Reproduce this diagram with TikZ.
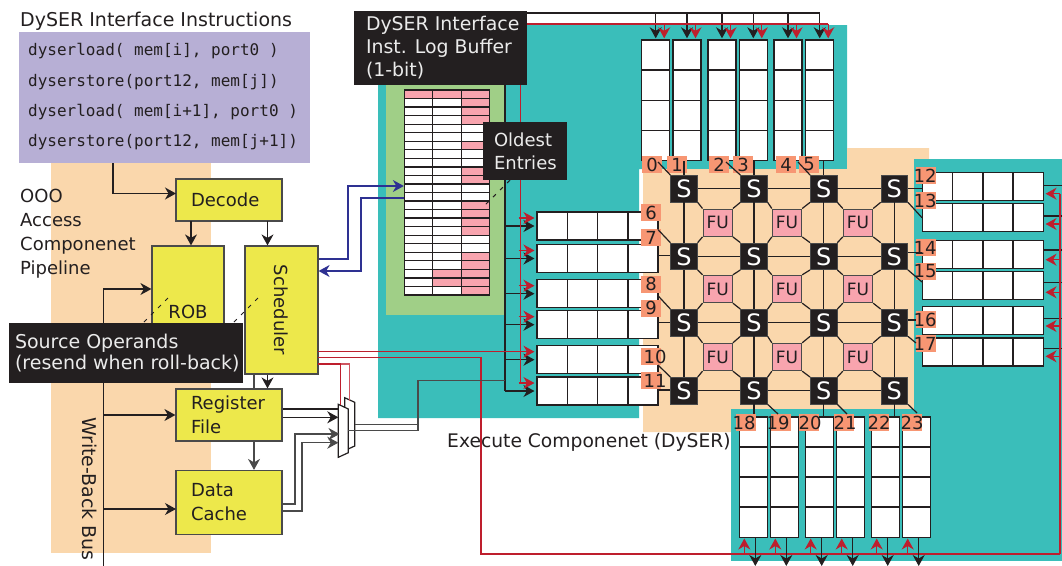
\documentclass[tikz,border=0pt]{standalone}
\usepackage{fontspec}
\usepackage{graphicx}
\setmainfont{DejaVu Sans}
\setmonofont{DejaVu Sans Mono}
\usetikzlibrary{arrows.meta,calc}
\definecolor{cInk}{HTML}{231F20}
\definecolor{cOrange}{HTML}{FAD7AC}
\definecolor{cPurple}{HTML}{B7AFD5}
\definecolor{cTeal}{HTML}{3ABEBA}
\definecolor{cGreen}{HTML}{A0CF87}
\definecolor{cYellow}{HTML}{EDE84B}
\definecolor{cSalmon}{HTML}{F79673}
\definecolor{cPink}{HTML}{F8A4AE}
\definecolor{cRed}{HTML}{BE1E2D}
\definecolor{cBlue}{HTML}{2E3192}
\definecolor{cEdge}{HTML}{4A4A4A}
\newcommand{\fs}[1]{\fontsize{#1}{#1}\selectfont}
\tikzset{
  x=1pt,y=-1pt,
  txt/.style={anchor=base west,inner sep=0pt,text=cInk,font=\fontsize{18}{24}\selectfont},
  mono/.style={anchor=base west,inner sep=0pt,text=cInk,font=\ttfamily\fontsize{16}{20}\selectfont},
  block/.style={draw=cEdge,fill=cYellow,line width=1.2pt,inner xsep=15pt,inner ysep=0pt,text width=76pt,align=left,text=cInk,font=\fontsize{18}{24}\selectfont},
  plainblock/.style={draw=cEdge,fill=cYellow,line width=1.2pt,inner sep=0pt,text=cInk,font=\fontsize{18}{24}\selectfont},
  blackbox/.style={fill=cInk,inner ysep=0pt,align=left,text=white!92!black},
  snode/.style={fill=cInk,draw=cEdge,line width=.8pt,minimum size=26.5pt,inner sep=0pt,text=white,font=\fs{24}},
  funode/.style={fill=cPink,draw=cEdge,line width=.9pt,minimum width=29.5pt,minimum height=27.5pt,inner sep=0pt,text=cInk,font=\fs{17}},
  tag/.style={fill=cSalmon,minimum width=20pt,minimum height=17pt,inner sep=0pt,text=cInk,font=\fs{18}},
  wire/.style={draw=cInk,line width=1.2pt},
  redwire/.style={draw=cRed,line width=1.3pt},
  bluewire/.style={draw=cBlue,line width=1.2pt},
  arr/.style={wire,-{Stealth[length=11pt,width=12pt,inset=3.5pt]}},
  redarr/.style={redwire,-{Stealth[length=11pt,width=12pt,inset=3.5pt]}},
  bluearr/.style={bluewire,-{Stealth[length=11pt,width=12pt,inset=3.5pt]}},
  dashline/.style={draw=cInk,line width=1pt,dash pattern=on 4pt off 6pt},
  fifo/.style={draw=cInk,fill=white,line width=1.5pt,inner sep=0pt},
  fifoh/.style={fifo,minimum width=121pt,minimum height=28pt,
    path picture={\foreach \t in {0.25,0.5,0.75}{\draw[cInk,line width=1.5pt]
      ($(path picture bounding box.north west)!\t!(path picture bounding box.north east)$) --
      ($(path picture bounding box.south west)!\t!(path picture bounding box.south east)$);}}},
  fifov/.style={fifo,minimum width=28pt,minimum height=120.5pt,
    path picture={\foreach \t in {0.25,0.5,0.75}{\draw[cInk,line width=1.5pt]
      ($(path picture bounding box.north west)!\t!(path picture bounding box.south west)$) --
      ($(path picture bounding box.north east)!\t!(path picture bounding box.south east)$);}}},
}
\begin{document}
\begin{tikzpicture}
\useasboundingbox (0,0) rectangle (1062,565);
% ---------- backgrounds
\fill[cOrange] (51,150) rectangle (211,553);
\fill[cPurple] (19,32) rectangle (310,163);
\fill[cTeal] (378,25) -- (847,25) -- (847,169) -- (639,169) -- (639,418) -- (378,418) -- cycle;
\fill[cOrange] (643,169) -- (847,169) -- (847,148) -- (929,148) -- (929,159) -- (914,159) -- (914,409) -- (731,409) -- (731,432) -- (643,432) -- cycle;
\fill[cTeal] (914,159) rectangle (1062,561);
\fill[cTeal] (731,409) rectangle (914,561);
\fill[cGreen] (386,80) rectangle (505,315);
% ---------- instruction text
\node[txt,font=\fs{19}] (title) at (20,26) {DySER Interface Instructions};
\node[mono] (i1) at (28,55.7) {dyserload( mem[i], port0 )};
\node[mono] (i2) at (28,86) {dyserstore(port12, mem[j])};
\node[mono] (i3) at (28,116) {dyserload( mem[i+1], port0 )};
\node[mono] (i4) at (28,146.7) {dyserstore(port12, mem[j+1])};
\node[txt] (p1) at (20,202) {OOO};
\node[txt] (p2) at (20,226.7) {Access};
\node[txt] (p3) at (20,250.7) {Componenet};
\node[txt] (p4) at (20,274.7) {Pipeline};
\node[txt,font=\fontsize{18.7}{24}\selectfont] (exec) at (447,447.5) {Execute Componenet (DySER)};
\node[anchor=base,inner sep=0pt,text=cInk,font=\fs{19},rotate=-90] (wb) at (82,489) {Write-Back Bus};
% ---------- pipeline blocks
\node[block,minimum height=42pt] (decode) at (229,200) {Decode};
\node[plainblock,minimum width=72pt,minimum height=132pt] (rob) at (188,312) {ROB};
\node[plainblock,minimum width=73pt,minimum height=128pt] (sched) at (281.5,310) {\rotatebox{-90}{Scheduler}};
\node[block,minimum height=52pt] (reg) at (229,415) {Register\\File};
\node[block,minimum height=64pt] (data) at (229,502.5) {Data\\Cache};
% ---------- named free ends
\coordinate (instrOut) at (113,163);
\coordinate (decIn) at (176,193.5);
\coordinate (decOutA) at (191,221);
\coordinate (decOutB) at (267.5,221);
\coordinate (wbTop) at (103.5,289);
\coordinate (wbBot) at (103.5,566);
\coordinate (dataIn) at (176,509);
\coordinate (schedRegX) at (267.5,381);
\coordinate (schedDataX) at (254,381);
\coordinate (blueA) at (348,186);
\coordinate (blueB) at (361,198);
\coordinate (muxI1) at (338.3,409);
\coordinate (muxI2) at (338.3,417.3);
\coordinate (muxI3) at (339.5,434);
\coordinate (muxI4) at (338.3,442.7);
\coordinate (busBlack) at (505,13);
\coordinate (busRed) at (520.7,24);
\coordinate (busRedBack) at (1060,554);
% ---------- blocks' wiring
\draw[arr] (instrOut) |- (decIn);
\draw[arr] (decOutA) -- (decOutA |- rob.north);
\draw[arr] (decOutB) -- (decOutB |- sched.north);
\draw[arr] (wbBot) -- (wbTop) -- (rob.west |- wbTop);
\draw[arr] (wbBot |- reg.west) -- (reg.west);
\draw[arr] (wbBot |- dataIn) -- (dataIn);
\draw[arr] (schedRegX |- sched.south) -- (schedRegX |- reg.north);
\draw[wire,draw=cEdge] (schedDataX |- sched.south) -- (schedDataX |- reg.north);
\draw[arr,draw=cEdge] (schedDataX |- reg.south) -- (schedDataX |- data.north);
% ---------- mux
\coordinate (muxBa) at (344.7,397.7);
\coordinate (muxBb) at (354.7,402.3);
\coordinate (muxBc) at (354.7,446);
\coordinate (muxBd) at (344.7,450.6);
\coordinate (muxFa) at (338.3,404.3);
\coordinate (muxFb) at (348.3,409);
\coordinate (muxFc) at (348.3,452.7);
\coordinate (muxFd) at (338.3,457.3);
\draw[wire,fill=white] (muxBa) -- (muxBb) -- (muxBc) -- (muxBd) -- cycle;
\draw[wire,fill=white] (muxFa) -- (muxFb) -- (muxFc) -- (muxFd) -- cycle;
\draw[wire] (reg.east |- muxI1) -- (muxI1);
\draw[arr] (reg.east |- muxI2) -- (muxI2);
\coordinate (dOut1) at (295,504);
\coordinate (dOut2) at (302,511);
\draw[arr,draw=cEdge] (data.east |- dOut1) -- (dOut1) |- (muxI3);
\draw[arr,draw=cEdge] (data.east |- dOut2) -- (dOut2) |- (muxI4);
% ---------- log buffer
\foreach \r in {0,...,23}{
  \foreach \c in {0,1,2}{
    \fill[white] ({404.5+\c*28.33},{90+\r*8.54}) rectangle ++(28.33,8.54);
  }
}
\foreach \r in {0,1,2,3,6,9,10,13,14,15,16,19,20,21,22,23}{
  \fill[cPink] ({404.5+2*28.33},{90+\r*8.54}) rectangle ++(28.33,8.54);
}
\foreach \r/\c in {0/0,0/1,21/1,22/1}{
  \fill[cPink] ({404.5+\c*28.33},{90+\r*8.54}) rectangle ++(28.33,8.54);
}
\foreach \r in {1,...,23}{
  \draw[cInk,line width=1.3pt] (404.5,{90+\r*8.54}) -- (489.5,{90+\r*8.54});
}
\foreach \c in {1,2}{
  \draw[cInk,line width=1.3pt] ({404.5+\c*28.33},90) -- ({404.5+\c*28.33},295);
}
\node[draw=cInk,line width=1.3pt,minimum width=85pt,minimum height=205pt,inner sep=0pt] (logbuf) at (447,192.5) {};
% ---------- FIFOs
\foreach \n/\x in {1/655.7,2/687,3/722,4/753.3,5/788,6/819.7}{
  \node[fifov] (t\n) at (\x,100.3) {};
}
\foreach \n/\x in {1/753.3,2/784.3,3/819.7,4/850.7,5/885.7,6/916.7}{
  \node[fifov] (b\n) at (\x,477) {};
}
\foreach \n/\y in {1/226,2/258.5,3/293.7,4/324.7,5/359.7,6/391}{
  \node[fifoh] (l\n) at (597.7,\y) {};
}
\foreach \n/\y in {1/186.3,2/217.3,3/254.3,4/285.7,5/320.7,6/351.8}{
  \node[fifoh] (r\n) at (982.8,\y) {};
}
% ---------- busses
\draw[wire] (busBlack) -- (busBlack |- l6.west);
\draw[wire] (busBlack) -- (t6.north |- busBlack);
\foreach \n in {1,...,6}{
  \draw[arr,shorten >=1pt] (t\n.north |- busBlack) -- (t\n.north);
  \draw[arr,shorten >=2pt] (busBlack |- l\n.west) -- (l\n.west);
}
\draw[redwire] (busRed) -- ([xshift=8.5pt]t6.north |- busRed);
\draw[redwire] (busRed) -- ([yshift=8pt]busRed |- l6.west);
\foreach \n in {1,...,6}{
  \draw[redarr,shorten >=1pt] ([xshift=8.5pt]t\n.north |- busRed) -- ([xshift=8.5pt]t\n.north);
  \draw[redarr,shorten >=2pt] ([xshift=-2pt,yshift=8pt]busRed |- l\n.west) -- ([yshift=8pt]l\n.west);
}
% red wires from the scheduler
\coordinate (redA) at (318,351.7);
\coordinate (redB) at (318,357.7);
\coordinate (redC) at (318,364);
\draw[redwire] (redA) -- (busRed |- redA);
\coordinate (redBk) at (481,357.7);
\draw[redwire] (redB) -- (redBk) -- (redBk |- busRedBack) -- (busRedBack);
\coordinate (redCa) at (340.3,405);
\coordinate (redCb) at (349.3,401);
\draw[redwire,draw=cRed!75] (redC) -| (redCb);
\draw[redwire] (redC) -| (redCa);
\foreach \n/\b/\r in {1/185.7/193.7,2/216/224,3/250/259.7,4/282.3/292.3,5/318.3/326,6/348.3/356.3}{
  \draw[wire] (r\n.east |- 0,\b) -- (1062,\b);
  \draw[redarr,shorten >=1.5pt] (busRedBack |- 0,\r) -- (r\n.east |- 0,\r);
}
\draw[redwire] (busRedBack) -- (busRedBack |- 0,193.7);
\foreach \n in {1,...,6}{
  \draw[redarr,shorten >=.5pt] ([xshift=-9pt]b\n.south |- busRedBack) -- ([xshift=-9pt]b\n.south);
  \coordinate (bEnd\n) at ([xshift=2pt]b\n.south |- wbBot);
  \draw[arr] ([xshift=2pt]b\n.south) -- (bEnd\n);
}
% mux outputs into the DySER bus
\coordinate (muxO) at (418,430.7);
\coordinate (muxOt) at (418,380.7);
\draw[wire,draw=cEdge] (muxBb |- 0,424.7) -- (muxO |- 0,424.7);
\draw[wire,draw=cEdge] (muxFb |- muxO) -- (muxO) -- (muxOt) -- (busBlack |- muxOt);
% blue wires
\draw[bluearr] (sched.east |- 0,259) -- (blueA |- 0,259) -- (blueA) -- (logbuf.west |- blueA);
\draw[bluearr] (logbuf.west |- blueB) -- (blueB) -- (blueB |- 0,271) -- (sched.east |- 0,271);
% ---------- DySER switch grid
\foreach \c/\x in {1/684,2/754,3/823.7,4/894.3}{
  \foreach \r/\y in {1/188.7,2/256.3,3/322.7,4/390.7}{
    \node[snode] (s\r\c) at (\x,\y) {S};
  }
}
\foreach \c/\x in {1/717.7,2/787,3/858}{
  \foreach \r/\y in {1/222.7,2/289,3/357}{
    \node[funode] (f\r\c) at (\x,\y) {FU};
  }
}
\foreach \r/\ys in {1/1,2/2,3/1,4/2}{
  \foreach \a/\b in {1/2,2/3,3/4}{
    \draw[wire,yshift=\ys pt] (s\r\a.east) -- (s\r\b.west);
  }
}
\foreach \c in {1,...,4}{
  \foreach \a/\b in {1/2,2/3,3/4}{
    \draw[wire,xshift=-1.3pt] (s\a\c.south) -- (s\b\c.north);
  }
}
\foreach \r/\rr in {1/2,2/3,3/4}{
  \foreach \c/\cc in {1/2,2/3,3/4}{
    \draw[wire] (s\r\c.south east) -- (f\r\c.north west);
    \draw[wire] (s\r\cc.south west) -- (f\r\c.north east);
    \draw[wire] (s\rr\c.north east) -- (f\r\c.south west);
    \draw[wire] (s\rr\cc.north west) -- (f\r\c.south east);
  }
}
% ---------- port tags
\foreach \n/\x/\y in {0/652/164.5,1/677/164.5,2/719/164.5,3/743/164.5,4/786/164.5,5/809/164.5,
  6/651/212.5,7/651/237.5,8/651/284.2,9/651/308.2,10/651/356.7,11/651/380.5,
  12/926/175.5,13/926/200.5,14/926/247.5,15/926/271.5,16/926/319.5,17/926/343.5,
  18/746/422.5,19/781/422.5,20/809/422.5,21/844/422.5,22/879/422.5,23/912/422.5}{
  \node[tag] (tag\n) at (\x,\y) {};
}
% port wires
\foreach \n/\x/\y/\sn/\an in {0/658/162/s11/north west,2/726/162/s12/north west,4/798/162/s13/north west,
  7/657.7/229.3/s21/north west,9/658/295.7/s31/north west,11/658/365/s41/north west,
  13/922/217.7/s14/south east,15/922/282/s24/south east,17/916/343/s34/south east,
  19/778/414/s42/south east,21/847/414/s43/south east,23/917/413/s44/south east}{
  \coordinate (pe\n) at (\x,\y);
  \draw[wire] (pe\n) -- (\sn.\an);
}
\foreach \n/\sn/\fn in {1/s11/t2,3/s12/t4,5/s13/t6}{
  \coordinate (pv\n) at (\sn.north |- \fn.south);
  \draw[wire,xshift=-1pt] (pv\n) -- (\sn.north);
}
\foreach \n/\y/\sn/\an in {7/255.5/s21/west,9/322.3/s31/west,11/390/s41/west}{
  \draw[wire] (l1.east |- 0,\y) -- (\sn.\an |- 0,\y);
}
\draw[wire] (s14.east) -- (r1.west |- s14.east);
\draw[wire] (s24.east |- 0,252.3) -- (r3.west |- 0,252.3);
\draw[wire] (s34.east |- 0,320) -- (tag16.west |- 0,320);
\draw[wire] (s42.south) -- (s42.south |- tag18.north);
\draw[wire,xshift=-1.5pt] (s43.south) -- (s43.south |- b3.north);
\draw[wire,xshift=-3pt] (s44.south) -- (s44.south |- b5.north);
% tag numbers
\foreach \n/\dx in {0/0,1/0,2/0,3/0,4/0,5/0,6/0,7/0,8/0,9/0,10/4,11/4,12/-1,13/-1,14/-1,15/-1,16/-1,17/-1,18/-2,19/-3,20/1,21/1,22/0,23/0}{
  \node[inner sep=0pt,text=cInk,font=\fs{18},anchor=center] (num\n) at ([xshift=\dx pt]tag\n.center) {\n};
}
% ---------- black callouts
\draw[dashline] (168,298) -- (143,323);
\draw[dashline] (258,298) -- (233,323);
\node[blackbox,minimum width=173pt,minimum height=74pt,inner xsep=0pt] (logLabel) at (440.5,48) {\hspace{12pt}\parbox[c]{161pt}{\fontsize{18.9}{23}\selectfont DySER Interface\\Inst. Log Buffer\\(1-bit)}};
\node[blackbox,minimum width=84pt,minimum height=58pt,inner xsep=0pt] (oldLabel) at (525,151) {\hspace{11pt}\parbox[c]{73pt}{\fontsize{18}{23}\selectfont Oldest\\Entries}};
\coordinate (oldEnd) at (483,207);
\draw[dashline] (oldLabel.south -| 510,0) -- (oldEnd);
\node[blackbox,minimum width=234pt,minimum height=60pt,inner xsep=0pt] (srcLabel) at (126,353) {\hspace{6pt}\parbox[c]{228pt}{\fontsize{19}{21}\selectfont Source Operands\\(resend when roll-back)}};
\end{tikzpicture}
\end{document}
